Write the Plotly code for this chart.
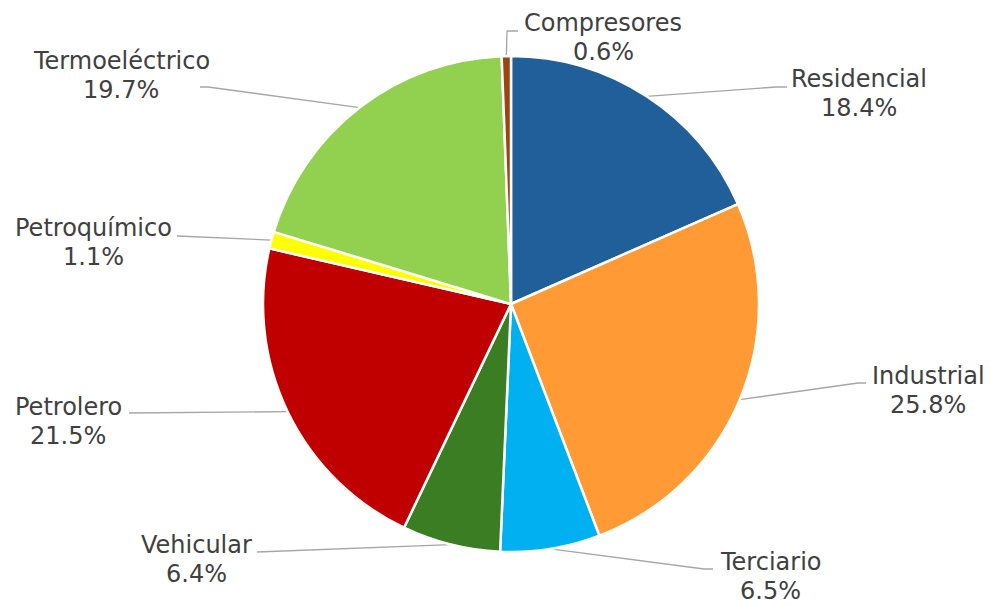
import math
import plotly.graph_objects as go

# Consumo por sector (porcentaje del total)
sectores = ["Residencial", "Industrial", "Terciario", "Vehicular",
            "Petrolero", "Petroquímico", "Termoeléctrico", "Compresores"]
porcentajes = [18.4, 25.8, 6.5, 6.4, 21.5, 1.1, 19.7, 0.6]
colores = ["#215F9A", "#FF9A35", "#00B0F0", "#3B7D23",
           "#C00000", "#FFFF00", "#92D050", "#9C4510"]

# Layout (pixel space of a 990 x 605 canvas)
W, H = 990, 605
CX, CY, R = 511, 304, 248
LINE_GAP = 29  # distance between the name line and the percentage line

# Label block centres and leader-line elbows/ends, per sector
label_pos = {
    "Residencial":    (859, 93),
    "Industrial":     (928, 390),
    "Terciario":      (770, 576),
    "Vehicular":      (196, 559),
    "Petrolero":      (68, 421),
    "Petroquímico":   (93, 242),
    "Termoeléctrico": (121, 75),
    "Compresores":    (603, 37),
}
leader_pts = {
    "Residencial":    [(776, 87), (787, 87)],
    "Industrial":     [(858, 383), (866, 383)],
    "Terciario":      [(704, 569), (713, 569)],
    "Vehicular":      [(266, 552), (257, 552)],
    "Petrolero":      [(138, 413), (129, 413)],
    "Petroquímico":   [(186, 236), (177, 236)],
    "Termoeléctrico": [(208, 87), (200, 87)],
    "Compresores":    [(507, 31), (518, 31)],
}

fig = go.Figure()

fig.add_trace(go.Pie(
    labels=sectores,
    values=porcentajes,
    sort=False,
    direction="clockwise",
    rotation=0,
    marker=dict(colors=colores, line=dict(color="white", width=2.5)),
    textinfo="none",
    hoverinfo="label+percent",
    showlegend=False,
    domain=dict(x=[(CX - R) / W, (CX + R) / W],
                y=[1 - (CY + R) / H, 1 - (CY - R) / H]),
))

# Leader lines: from the middle of each slice's outer arc to its label
total = sum(porcentajes)
lx, ly = [], []
acum = 0.0
for nombre, v in zip(sectores, porcentajes):
    mid = (acum + v / 2) / total * 2 * math.pi
    acum += v
    lx.append(CX + R * math.sin(mid))
    ly.append(CY - R * math.cos(mid))
    for (ex, ey) in leader_pts[nombre]:
        lx.append(ex)
        ly.append(ey)
    lx.append(None)
    ly.append(None)

fig.add_trace(go.Scatter(
    x=lx, y=ly, mode="lines",
    line=dict(color="#A6A6A6", width=1.3),
    hoverinfo="skip", showlegend=False,
))

fuente = dict(family="DejaVu Sans", size=24, color="#404040")
for nombre, v in zip(sectores, porcentajes):
    x, y = label_pos[nombre]
    for texto, dy in ((nombre, -LINE_GAP / 2), (f"{v:.1f}%", LINE_GAP / 2)):
        fig.add_annotation(
            x=x, y=y + dy, xref="x", yref="y",
            text=texto, showarrow=False,
            xanchor="center", yanchor="middle",
            font=fuente,
        )

fig.update_layout(
    width=W, height=H,
    margin=dict(l=0, r=0, t=0, b=0),
    paper_bgcolor="white",
    plot_bgcolor="rgba(0,0,0,0)",
    xaxis=dict(range=[0, W], visible=False, fixedrange=True),
    yaxis=dict(range=[H, 0], visible=False, fixedrange=True),
)

fig.write_html("out.html")
